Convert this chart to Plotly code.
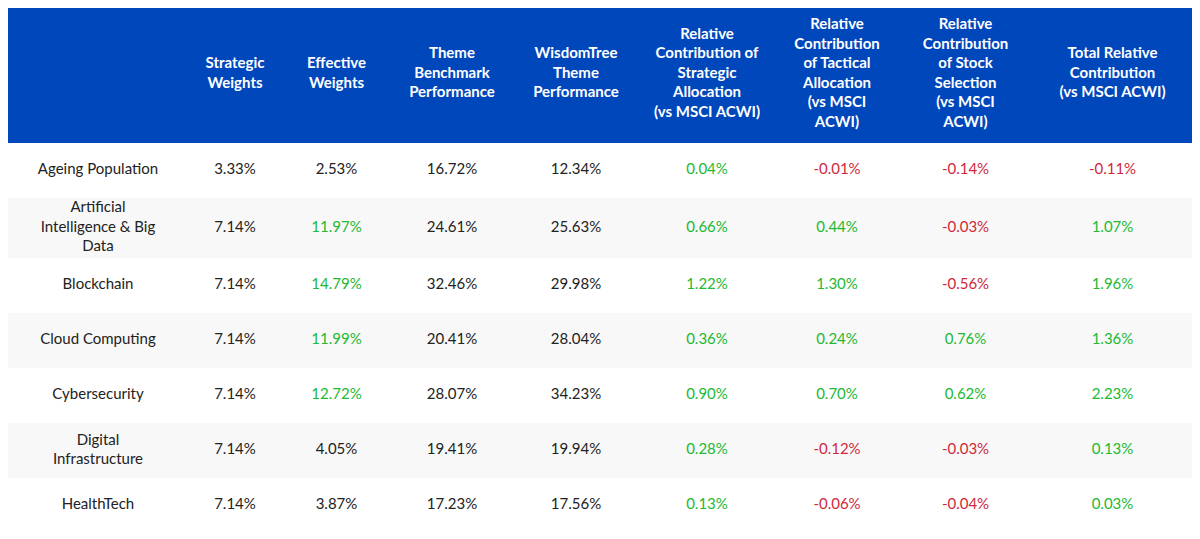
import plotly.graph_objects as go

headers = ["", "Strategic<br>Weights", "Effective<br>Weights", "Theme<br>Benchmark<br>Performance",
           "WisdomTree<br>Theme<br>Performance",
           "Relative<br>Contribution of<br>Strategic<br>Allocation<br>(vs MSCI ACWI)",
           "Relative<br>Contribution<br>of Tactical<br>Allocation<br>(vs MSCI<br>ACWI)",
           "Relative<br>Contribution<br>of Stock<br>Selection<br>(vs MSCI<br>ACWI)",
           "Total Relative<br>Contribution<br>(vs MSCI ACWI)"]
themes = ["Ageing Population", "Artificial<br>Intelligence & Big<br>Data", "Blockchain",
          "Cloud Computing", "Cybersecurity", "Digital<br>Infrastructure", "HealthTech"]
strategic = [3.33, 7.14, 7.14, 7.14, 7.14, 7.14, 7.14]
effective = [2.53, 11.97, 14.79, 11.99, 12.72, 4.05, 3.87]
benchmark = [16.72, 24.61, 32.46, 20.41, 28.07, 19.41, 17.23]
wisdomtree = [12.34, 25.63, 29.98, 28.04, 34.23, 19.94, 17.56]
strat_alloc = [0.04, 0.66, 1.22, 0.36, 0.90, 0.28, 0.13]
tact_alloc = [-0.01, 0.44, 1.30, 0.24, 0.70, -0.12, -0.06]
stock_sel = [-0.14, -0.03, -0.56, 0.76, 0.62, -0.03, -0.04]
total = [-0.11, 1.07, 1.96, 1.36, 2.23, 0.13, 0.03]

BLUE, GREEN, RED, DARK = "#0047bb", "#22b933", "#d0283a", "#222222"
x_edges = [6, 190, 280, 393, 511, 641, 773, 901, 1030, 1195]
y_edges = [5, 143, 198, 258, 313, 368, 423, 478, 533]
xc = [(a + b) / 2 for a, b in zip(x_edges[:-1], x_edges[1:])]
yc = [(a + b) / 2 for a, b in zip(y_edges[:-1], y_edges[1:])]
FONT = "Lato"

fig = go.Figure()
fig.add_trace(go.Heatmap(
    x=[x_edges[0], x_edges[-1]], y=y_edges,
    z=[[0]] + [[1 + (i % 2)] for i in range(len(themes))],
    zmin=0, zmax=2, showscale=False, hoverinfo="skip",
    colorscale=[[0, BLUE], [0.33, BLUE], [0.34, "#ffffff"], [0.66, "#ffffff"],
                [0.67, "#f8f8f8"], [1, "#f8f8f8"]]))

fig.add_trace(go.Scatter(x=xc, y=[yc[0]] * len(xc), mode="text", text=[f"<b>{h}</b>" for h in headers],
                         textfont=dict(family=FONT, size=15, color="white"), hoverinfo="skip"))

cols = [themes,
        [f"{v:.2f}%" for v in strategic],
        [f"{v:.2f}%" for v in effective],
        [f"{v:.2f}%" for v in benchmark],
        [f"{v:.2f}%" for v in wisdomtree]]
colors = [[DARK] * 7, [DARK] * 7,
          [GREEN if e > s else DARK for e, s in zip(effective, strategic)],
          [DARK] * 7, [DARK] * 7]
for series in [strat_alloc, tact_alloc, stock_sel, total]:
    cols.append([f"{v:.2f}%" for v in series])
    colors.append([GREEN if v >= 0 else RED for v in series])

for i, (txt, col) in enumerate(zip(cols, colors)):
    fig.add_trace(go.Scatter(x=[xc[i]] * len(txt), y=yc[1:], mode="text", text=txt,
                             textfont=dict(family=FONT, size=15, color=col), hoverinfo="skip"))

fig.update_layout(width=1200, height=539, margin=dict(l=0, r=0, t=0, b=0),
                  paper_bgcolor="white", plot_bgcolor="white", showlegend=False,
                  xaxis=dict(range=[8, 1208], visible=False, fixedrange=True),
                  yaxis=dict(range=[547, 8], visible=False, fixedrange=True))
fig.write_html("out.html")
